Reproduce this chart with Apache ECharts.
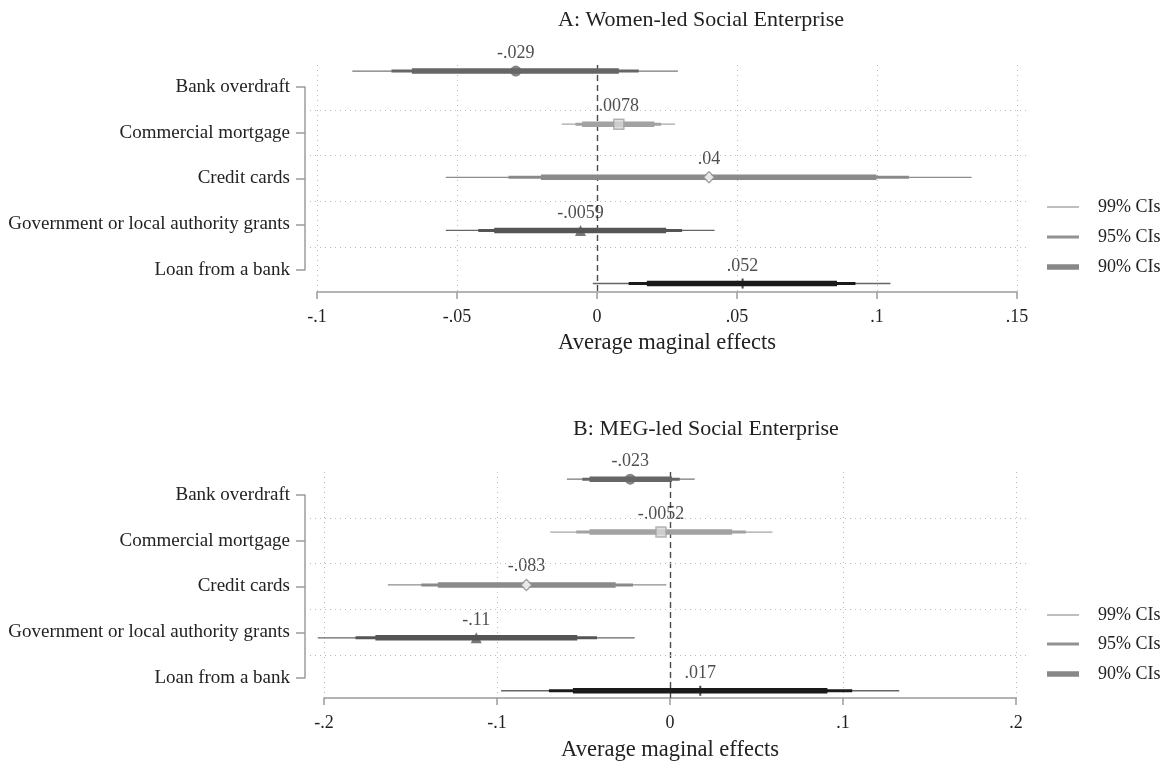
<!DOCTYPE html>
<html>
<head>
<meta charset="utf-8">
<script src="https://cdn.jsdelivr.net/npm/echarts@6/dist/echarts.min.js"></script>
<style>html,body{margin:0;padding:0;background:#fff}#c{width:1169px;height:763px}</style>
</head>
<body>
<div id="c"></div>
<script>
// ---------- data ----------
const categories = ['Bank overdraft', 'Commercial mortgage', 'Credit cards', 'Government or local authority grants', 'Loan from a bank'];
const titleA = 'A: Women-led Social Enterprise';
const titleB = 'B: MEG-led Social Enterprise';
const xTitle = 'Average maginal effects';
const legendNames = ['99% CIs', '95% CIs', '90% CIs'];

const ticksA = ['-.1', '-.05', '0', '.05', '.1', '.15'];
const ticksB = ['-.2', '-.1', '0', '.1', '.2'];

// Panel A: Women-led
const estA    = [-0.029, 0.0078, 0.040, -0.0059, 0.052];
const estLabA = ['-.029', '.0078', '.04', '-.0059', '.052'];
const lo99A = [-0.0874, -0.0126, -0.0540, -0.0540, -0.0015];
const hi99A = [ 0.0289,  0.0279,  0.1338,  0.0420,  0.1048];
const lo95A = [-0.0734, -0.0077, -0.0316, -0.0424,  0.0113];
const hi95A = [ 0.0149,  0.0229,  0.1114,  0.0304,  0.0923];
const lo90A = [-0.0661, -0.0053, -0.0200, -0.0367,  0.0178];
const hi90A = [ 0.0078,  0.0205,  0.0998,  0.0247,  0.0857];

// Panel B: MEG-led
const estB    = [-0.023, -0.0052, -0.083, -0.112, 0.0175];
const estLabB = ['-.023', '-.0052', '-.083', '-.11', '.017'];
const lo99B = [-0.0596, -0.0692, -0.1631, -0.2036, -0.0976];
const hi99B = [ 0.0143,  0.0592, -0.0021, -0.0204,  0.1325];
const lo95B = [-0.0507, -0.0542, -0.1438, -0.1818, -0.0700];
const hi95B = [ 0.0056,  0.0438, -0.0214, -0.0422,  0.1053];
const lo90B = [-0.0465, -0.0465, -0.1342, -0.1703, -0.0561];
const hi90B = [ 0.0012,  0.0359, -0.0314, -0.0536,  0.0910];

const bandEdges = [0.5, 1.5, 2.5, 3.5];

// ---------- styles ----------
const FONT = "'Liberation Serif', 'DejaVu Serif', serif";
const TXT = '#222222';
const AXC = '#9c9c9c';
const GRIDC = '#b8b8b8';
const rowColors = ['#666666', '#a2a2a2', '#8a8a8a', '#555555', '#1a1a1a'];
const row99Colors = ['#777777', '#a6a6a6', '#8d8d8d', '#666666', '#666666'];
const symbols = ['circle', 'rect', 'diamond', 'triangle', 'rect'];
const symbolSizes = [11, 10, 11, 11, [2, 10]];
const symbolFills = ['#666666', '#d8d8d8', '#ffffff', '#555555', '#1a1a1a'];
const ciWidths = [1.3, 3, 5.5];
const legendColors = ['#949494', '#777777', '#6a6a6a'];
const legendHeights = [1.5, 3, 5.5];

const chart = echarts.init(document.getElementById('c'), null, {renderer: 'canvas'});

function tickFmt(ticks, min, step) {
  return function (v) { return ticks[Math.round((v - min) / step)]; };
}

function ciSeries(gridAxis, est, lo99, hi99, lo95, hi95, lo90, hi90) {
  const data = est.map((e, i) => [i + 1, lo99[i], hi99[i], lo95[i], hi95[i], lo90[i], hi90[i]]);
  return {
    type: 'custom', xAxisIndex: gridAxis, yAxisIndex: gridAxis, z: 3, silent: true,
    data: data,
    encode: {x: [1, 2, 3, 4, 5, 6], y: 0},
    renderItem: function (params, api) {
      const r = api.value(0);
      const idx = params.dataIndex;
      const children = [];
      const levels = [[1, 2, ciWidths[0], row99Colors[idx]], [3, 4, ciWidths[1], rowColors[idx]], [5, 6, ciWidths[2], rowColors[idx]]];
      levels.forEach(function (lv) {
        const p1 = api.coord([api.value(lv[0]), r]);
        const p2 = api.coord([api.value(lv[1]), r]);
        children.push({type: 'line', shape: {x1: p1[0], y1: p1[1], x2: p2[0], y2: p2[1]},
          style: {stroke: lv[3], lineWidth: lv[2], lineCap: 'butt'}});
      });
      return {type: 'group', children: children};
    },
    markLine: {
      silent: true, symbol: 'none', z: 2, animation: false,
      label: {show: false},
      lineStyle: {type: [6, 4], color: '#4a4a4a', width: 1.4},
      data: [{xAxis: 0}]
    }
  };
}

function markerSeries(gridAxis, est, labels) {
  return {
    type: 'scatter', xAxisIndex: gridAxis, yAxisIndex: gridAxis, z: 4, silent: true,
    data: est.map((e, i) => ({
      value: [e, i + 1],
      symbol: symbols[i],
      symbolSize: symbolSizes[i],
      itemStyle: {color: symbolFills[i], borderColor: rowColors[i], borderWidth: (i === 1 || i === 2) ? 1.5 : 0}
    })),
    label: {
      show: true, position: 'top', distance: 3,
      formatter: p => labels[p.dataIndex],
      fontFamily: FONT, fontSize: 18, color: TXT
    }
  };
}

function gridLineSeries(gridAxis) {
  return {
    type: 'line', xAxisIndex: gridAxis, yAxisIndex: gridAxis, data: [], z: 1, silent: true,
    markLine: {
      silent: true, symbol: 'none', animation: false,
      label: {show: false},
      lineStyle: {type: [1, 4], color: GRIDC, width: 1},
      data: bandEdges.map(v => ({yAxis: v}))
    }
  };
}

function labelYAxis(grid) {
  return {
    gridIndex: grid, type: 'value', min: 0, max: 4, interval: 1, inverse: true,
    axisLine: {show: true, lineStyle: {color: AXC, width: 1.5}},
    axisTick: {show: true, length: 9, lineStyle: {color: AXC, width: 1.5}},
    axisLabel: {formatter: v => categories[v], margin: 15, fontFamily: FONT, fontSize: 19, color: TXT},
    splitLine: {show: false}
  };
}

function plotXAxis(grid, min, max, step, ticks, gap) {
  return {
    gridIndex: grid, type: 'value', min: min, max: max, interval: step,
    axisLine: {show: true, lineStyle: {color: AXC, width: 1.5}},
    axisTick: {show: true, length: 7, lineStyle: {color: AXC, width: 1.5}},
    axisLabel: {formatter: tickFmt(ticks, min, step), margin: 16, fontFamily: FONT, fontSize: 18, color: TXT},
    splitLine: {show: true, lineStyle: {type: [1, 4], color: GRIDC, width: 1}},
    name: xTitle, nameLocation: 'middle', nameGap: gap,
    nameTextStyle: {fontFamily: FONT, fontSize: 22.5, color: TXT}
  };
}

const legends = [];
const legendTopsA = [208, 238, 268];
const legendTopsB = [616, 645, 675];
[legendTopsA, legendTopsB].forEach(tops => {
  legendNames.forEach((n, k) => {
    legends.push({
      data: [n], left: 1047, top: tops[k] - 10, padding: 0,
      icon: 'rect', itemWidth: 32, itemHeight: legendHeights[k],
      selectedMode: false,
      textStyle: {fontFamily: FONT, fontSize: 18, color: TXT, padding: [0, 0, 0, 14]}
    });
  });
});

const option = {
  backgroundColor: '#fff',
  animation: false,
  title: [
    {text: titleA, left: 696, top: 15, textAlign: 'center', textVerticalAlign: 'middle',
     textStyle: {fontFamily: FONT, fontSize: 22, fontWeight: 'normal', color: TXT}},
    {text: titleB, left: 701, top: 424, textAlign: 'center', textVerticalAlign: 'middle',
     textStyle: {fontFamily: FONT, fontSize: 22, fontWeight: 'normal', color: TXT}}
  ],
  legend: legends,
  grid: [
    {left: 305, right: 139, top: 87, bottom: 763 - 270},   // A labels
    {left: 317, right: 1169 - 1017, top: 65, bottom: 763 - 292}, // A plot
    {left: 305, right: 139, top: 495, bottom: 763 - 678},  // B labels
    {left: 324, right: 1169 - 1016, top: 472, bottom: 763 - 699} // B plot
  ],
  xAxis: [
    {gridIndex: 0, type: 'value', min: 0, max: 1, show: false},
    plotXAxis(1, -0.1, 0.15, 0.05, ticksA, 40),
    {gridIndex: 2, type: 'value', min: 0, max: 1, show: false},
    plotXAxis(3, -0.2, 0.2, 0.1, ticksB, 41)
  ],
  yAxis: [
    labelYAxis(0),
    {gridIndex: 1, type: 'value', min: 0.885, max: 5.16, inverse: true, show: false},
    labelYAxis(2),
    {gridIndex: 3, type: 'value', min: 0.865, max: 5.137, inverse: true, show: false}
  ],
  series: [
    gridLineSeries(0),
    ciSeries(1, estA, lo99A, hi99A, lo95A, hi95A, lo90A, hi90A),
    markerSeries(1, estA, estLabA),
    gridLineSeries(2),
    ciSeries(3, estB, lo99B, hi99B, lo95B, hi95B, lo90B, hi90B),
    markerSeries(3, estB, estLabB),
    {type: 'scatter', name: legendNames[0], xAxisIndex: 1, yAxisIndex: 1, data: [], itemStyle: {color: legendColors[0]}},
    {type: 'scatter', name: legendNames[1], xAxisIndex: 1, yAxisIndex: 1, data: [], itemStyle: {color: legendColors[1]}},
    {type: 'scatter', name: legendNames[2], xAxisIndex: 1, yAxisIndex: 1, data: [], itemStyle: {color: legendColors[2]}}
  ]
};
chart.setOption(option);
</script>
</body>
</html>
